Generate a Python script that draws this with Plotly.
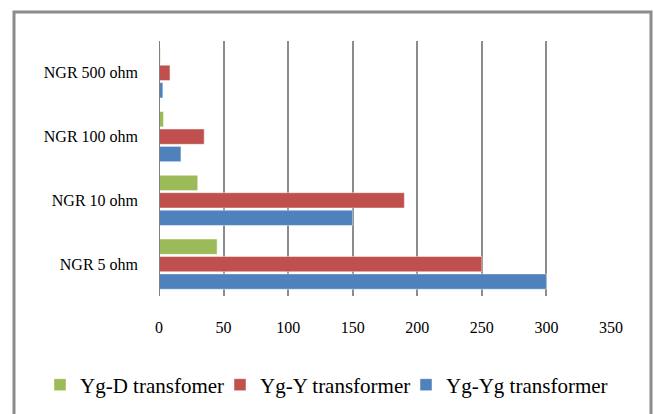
import plotly.graph_objects as go

categories = ["NGR 5 ohm", "NGR 10 ohm", "NGR 100 ohm", "NGR 500 ohm"]
yg_yg = [300, 150, 17, 3]
yg_y = [250, 190, 35, 8.5]
yg_d = [45, 30, 3.5, 1]
x_ticks = [0, 50, 100, 150, 200, 250, 300, 350]

W, H = 654, 414
L, R, T, B = 159, 611, 41, 296
pw, ph = R - L, B - T

def px_x(p):
    return (p - L) / pw

def px_y(p):
    return (B - p) / ph

series = [
    ("Yg-Yg transformer", yg_yg, "#4F81BD", "legend3", 406),
    ("Yg-Y transformer", yg_y, "#C0504D", "legend2", 220),
    ("Yg-D transfomer", yg_d, "#9BBB59", "legend", 40),
]

fig = go.Figure()
legend_cfg = {}
for name, vals, color, lg, lx in series:
    fig.add_trace(go.Bar(
        y=categories, x=vals, name=name, orientation="h", legend=lg,
        marker=dict(color=color, line=dict(color="rgba(255,255,255,0.6)", width=0.8)),
    ))
    legend_cfg[lg] = dict(orientation="h", x=px_x(lx), xanchor="left",
                          y=px_y(385), yanchor="middle", font=dict(size=21),
                          itemwidth=30, bgcolor="rgba(0,0,0,0)")

fig.add_shape(type="rect", xref="paper", yref="paper",
              x0=px_x(14), x1=px_x(651), y0=px_y(430), y1=px_y(12),
              line=dict(color="#8c8c8c", width=3), fillcolor="rgba(0,0,0,0)")

fig.update_layout(
    width=W, height=H,
    margin=dict(l=L, r=W - R, t=T, b=H - B, pad=0, autoexpand=False),
    paper_bgcolor="white", plot_bgcolor="white",
    barmode="group", bargap=0.18, bargroupgap=0.12,
    font=dict(family="Liberation Serif, Times New Roman, serif", color="#000000"),
    showlegend=True,
    xaxis=dict(range=[0, 350], tickvals=x_ticks, ticktext=[str(v) for v in x_ticks],
               showgrid=True, gridcolor="#8c8c8c", gridwidth=1.5,
               zeroline=False, showline=False, ticks="", automargin=False,
               tickfont=dict(size=16), ticklabelstandoff=20),
    yaxis=dict(type="category", categoryorder="array", categoryarray=categories,
               showgrid=False, zeroline=False, showline=False, ticks="", automargin=False,
               tickfont=dict(size=16), ticklabelstandoff=20),
    **legend_cfg,
)
fig.add_vline(x=0, line=dict(color="#808080", width=2))

fig.write_html("out.html", config={"displayModeBar": False},
               post_script="document.body.style.margin='0';document.body.style.overflow='hidden';")
